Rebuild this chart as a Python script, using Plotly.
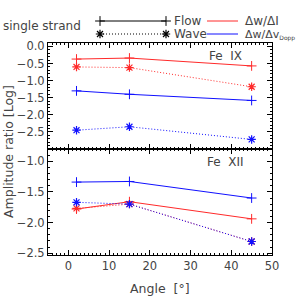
import plotly.graph_objects as go

angles = [2, 15, 45]

# Fe IX (top panel)
feix_flow_int = [-0.37, -0.34, -0.57]
feix_wave_int = [-0.60, -0.62, -1.18]
feix_flow_dop = [-1.30, -1.40, -1.58]
feix_wave_dop = [-2.45, -2.35, -2.72]

# Fe XII (bottom panel)
fexii_flow_int = [-1.78, -1.66, -1.94]
fexii_wave_int = [-1.77, -1.70, -2.31]
fexii_flow_dop = [-1.34, -1.33, -1.60]
fexii_wave_dop = [-1.67, -1.70, -2.31]

xticks = [0, 10, 20, 30, 40, 50]
top_yticks = [0.0, -0.5, -1.0, -1.5, -2.0, -2.5]
bot_yticks = [-1.0, -1.5, -2.0, -2.5]

RED = "#ff2a2a"
BLUE = "#1010ff"
FONT = "DejaVu Sans"
TXT = "#444444"
W = 299.0
L, R, T, MID, B = 48, 272, 43, 149, 255
DOT = "1px,2px"

fig = go.Figure()

def style(color, wave):
    return dict(
        line=dict(color=color, width=1, dash=DOT if wave else "solid"),
        marker=dict(symbol="asterisk-open" if wave else "cross-thin-open",
                    size=7,
                    line=dict(color=color, width=1.2 if wave else 1)),
    )

def add(x, y, color, wave, xa, ya):
    fig.add_trace(go.Scatter(x=x, y=y, mode="lines+markers", xaxis=xa, yaxis=ya,
                             showlegend=False, hoverinfo="skip", **style(color, wave)))

add(angles, feix_flow_int, RED, False, "x", "y")
add(angles, feix_wave_int, RED, True, "x", "y")
add(angles, feix_flow_dop, BLUE, False, "x", "y")
add(angles, feix_wave_dop, BLUE, True, "x", "y")
add(angles, fexii_flow_int, RED, False, "x2", "y2")
add(angles, fexii_wave_int, RED, True, "x2", "y2")
add(angles, fexii_flow_dop, BLUE, False, "x2", "y2")
add(angles, fexii_wave_dop, BLUE, True, "x2", "y2")

# legend glyphs on a page-spanning helper axis (pixel units)
def leg(x, y, color, wave, markers=True):
    fig.add_trace(go.Scatter(x=x, y=y, mode="lines+markers" if markers else "lines",
                             xaxis="x3", yaxis="y3", showlegend=False, hoverinfo="skip",
                             cliponaxis=False, **style(color, wave)))

leg([100, 166], [21, 21], "black", False)
leg([100, 166], [34, 34], "black", True)
leg([207, 238], [21, 21], RED, False, markers=False)
leg([207, 238], [34, 34], BLUE, False, markers=False)

axis_common = dict(
    ticks="inside", ticklen=5, tickwidth=1, tickcolor="black",
    showline=True, linecolor="black", linewidth=1, mirror="allticks",
    showgrid=False, zeroline=False, automargin=False,
    tickfont=dict(family=FONT, size=11.5, color=TXT),
)

xd = [L / W, R / W]
fig.update_layout(
    template="none",
    width=299, height=299,
    margin=dict(l=0, r=0, t=0, b=0, pad=0),
    paper_bgcolor="white", plot_bgcolor="rgba(0,0,0,0)",
    xaxis=dict(domain=xd, range=[-5, 50], anchor="y", tickvals=xticks,
               showticklabels=False,
               minor=dict(ticks="inside", ticklen=2, dtick=1, tickcolor="black"),
               **axis_common),
    yaxis=dict(domain=[(W - MID) / W, (W - T) / W], range=[-3.0, 0.1], anchor="x",
               tickvals=top_yticks, ticktext=["0.0", "−0.5", "−1.0", "−1.5", "−2.0", "−2.5"],
               minor=dict(ticks="inside", ticklen=2, dtick=0.1, tickcolor="black"),
               **axis_common),
    xaxis2=dict(domain=xd, range=[-5, 50], anchor="y2", tickvals=xticks,
                minor=dict(ticks="inside", ticklen=2, dtick=1, tickcolor="black"),
                **axis_common),
    yaxis2=dict(domain=[(W - B) / W, (W - MID) / W], range=[-2.53, -0.8], anchor="x2",
                tickvals=bot_yticks, ticktext=["−1.0", "−1.5", "−2.0", "−2.5"],
                minor=dict(ticks="inside", ticklen=2, dtick=0.1, tickcolor="black"),
                **axis_common),
    xaxis3=dict(domain=[0, 1], range=[0, 299], visible=False, fixedrange=True,
                anchor="y3", automargin=False),
    yaxis3=dict(domain=[0, 1], range=[299, 0], visible=False, anchor="x3",
                fixedrange=True, automargin=False),
)

annots = [
    dict(text="Amplitude ratio [Log]", x=8, y=152, textangle=-90, size=12.5),
    dict(text="single strand", x=42, y=26, size=12),
    dict(text="Flow", x=172, y=21, xa="left", size=12),
    dict(text="Wave", x=172, y=34, xa="left", size=12),
    dict(text="Δw/ΔI", x=243, y=21, xa="left", size=12),
    dict(text="Δw/Δv<sub><span style='font-size:6px'>Dopp</span></sub>", x=243, y=35,
         xa="left", size=11),
    dict(text="Fe  IX", x=225, y=56, size=12),
    dict(text="Fe  XII", x=225, y=162, size=12),
    dict(text="Angle  [°]", x=160, y=288, size=12.5),
]
for a in annots:
    fig.add_annotation(text=a["text"], x=a["x"] / W, y=1 - a["y"] / W, xref="paper", yref="paper",
                       xanchor=a.get("xa", "center"), yanchor="middle",
                       showarrow=False, textangle=a.get("textangle", 0),
                       font=dict(family=FONT, size=a["size"], color=TXT))

fig.write_html("out.html", config={"displayModeBar": False, "staticPlot": True},
               post_script="document.body.style.margin='0px';")
